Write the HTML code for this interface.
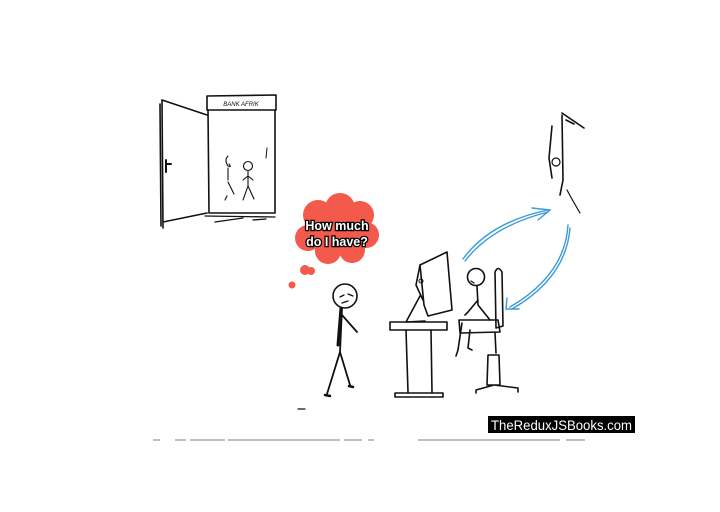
<!DOCTYPE html>
<html><head><meta charset="utf-8"><style>
html,body{margin:0;padding:0;background:#fff;}
svg{display:block;}
</style></head><body>
<svg width="720" height="512" viewBox="0 0 720 512" xmlns="http://www.w3.org/2000/svg">
<rect width="720" height="512" fill="#fff"/>
<g fill="none" stroke="#111" stroke-width="1.6" stroke-linecap="round" stroke-linejoin="round">
<!-- door -->
<path d="M162 100 L163 228 M162 100 L207 115 M163 222 L207 213 M160 104 L161 226"/>
<path d="M166 160 L166 172 M166 164 L171 164" stroke-width="2"/>
<path d="M207 96 L276 95 L276 110 L207 110 Z"/>
<path d="M208 110 L209 213 L275 213 L275 110"/>
<path d="M205 216 L275 217 M215 222 L243 218 M253 220 L266 219" stroke-width="1.3"/>
<path d="M267 148 L266 158" stroke-width="1"/>
<path d="M228 156 Q224 160 228 166 Q232 168 229 164 M228 168 L228 180 M228 182 L234 194 M227 196 L225 200" stroke-width="1.1"/>
<circle cx="248" cy="166" r="4.5" stroke-width="1.1"/>
<path d="M248 171 L248 186 L243 200 M248 186 L254 199 M243 180 L248 176 L253 180" stroke-width="1.1"/>
<!-- man -->
<circle cx="345" cy="296" r="12"/>
<path d="M340 297 L344 295 M348 294 L353 296 M342 303 L348 301" stroke-width="1.3"/>
<path d="M342 308 L340 352 L327 394 M340 352 L350 385 M342 315 L357 332" stroke-width="1.8"/>
<path d="M341 308 L338 345" stroke-width="3"/>
<path d="M325 395 L330 396 M349 386 L353 387" stroke-width="2.5"/>
<path d="M298 409 L305 409" stroke-width="1.2"/>
<!-- monitor & desk -->
<path d="M420 265 L447 252 L452 310 L428 316 L424 305 Z"/>
<path d="M420 265 L416 285 L423 300 M420 296 L406 322 M406 322 L425 321"/>
<circle cx="421" cy="281" r="2" stroke-width="1"/>
<path d="M390 322 L447 322 L447 330 L390 330 Z"/>
<path d="M406 330 L408 392 M431 330 L432 392 M395 393 L443 393 L443 397 L395 397 Z"/>
<!-- seated person -->
<circle cx="476" cy="277" r="8.5"/>
<path d="M471 281 L474 283" stroke-width="1.2"/>
<path d="M477 286 L478 305 L490 320 M478 300 L468 312 L465 315 M462 323 L458 350 L456 356 M470 330 L468 348 L472 350"/>
<path d="M459 320 L498 320 L500 332 L460 333 Z"/>
<!-- chair -->
<path d="M495 272 Q498 265 502 272 L503 326 L496 328 Z"/>
<path d="M495 333 L496 353 M488 355 L499 355 L500 385 L487 385 Z M494 385 L476 390 M494 385 L518 388 M476 390 L476 393 M518 388 L518 392"/>
<!-- right door -->
<path d="M552 126 L549 158 L552 178 M562 115 L563 180 L560 195 M562 113 L584 128 M566 120 L574 124"/>
<circle cx="556" cy="162" r="4" stroke-width="1.2"/>
<path d="M567 190 Q574 203 580 213" stroke-width="1.2"/>
</g>
<g fill="none" stroke="#3a9ad9" stroke-width="1.4" stroke-linecap="round">
<path d="M463 259 Q490 222 548 210 M465 261 Q492 226 548 212"/>
<path d="M532 208 L550 210 L538 220"/>
<path d="M568 225 Q565 275 510 307 M570 228 Q566 278 512 309"/>
<path d="M507 298 L506 309 L519 309"/>
</g>
<g fill="#f45a4b">
<circle cx="318" cy="215" r="15"/><circle cx="340" cy="208" r="15"/><circle cx="360" cy="215" r="14"/>
<circle cx="366" cy="235" r="13"/><circle cx="352" cy="250" r="13"/><circle cx="328" cy="251" r="13"/>
<circle cx="308" cy="238" r="13"/><ellipse cx="336" cy="230" rx="32" ry="24"/>
<circle cx="305" cy="270" r="5"/><circle cx="311" cy="271" r="4"/>
<circle cx="292" cy="285" r="3.5"/>
</g>
<g font-family="Liberation Sans, sans-serif" font-weight="bold" font-size="12.5" text-anchor="middle" fill="#fff" stroke="#000" stroke-width="2.6" paint-order="stroke">
<text x="337" y="230">How much</text>
<text x="337" y="246">do I have?</text>
</g>
<text x="241" y="106" font-family="Liberation Sans, sans-serif" font-size="6" text-anchor="middle" fill="#111" font-style="italic">BANK AFRIK</text>
<rect x="488" y="416" width="147" height="17" fill="#000"/>
<text x="491" y="430" font-family="Liberation Sans, sans-serif" font-size="14" fill="#fff" textLength="141" lengthAdjust="spacingAndGlyphs">TheReduxJSBooks.com</text>
<g stroke="#999" stroke-width="1.2">
<path d="M153 440 L160 440 M175 440 L186 440 M190 440 L225 440 M228 440 L340 440 M344 440 L362 440 M368 440 L374 440 M418 440 L560 440 M566 440 L585 440"/>
</g>
</svg>
</body></html>
